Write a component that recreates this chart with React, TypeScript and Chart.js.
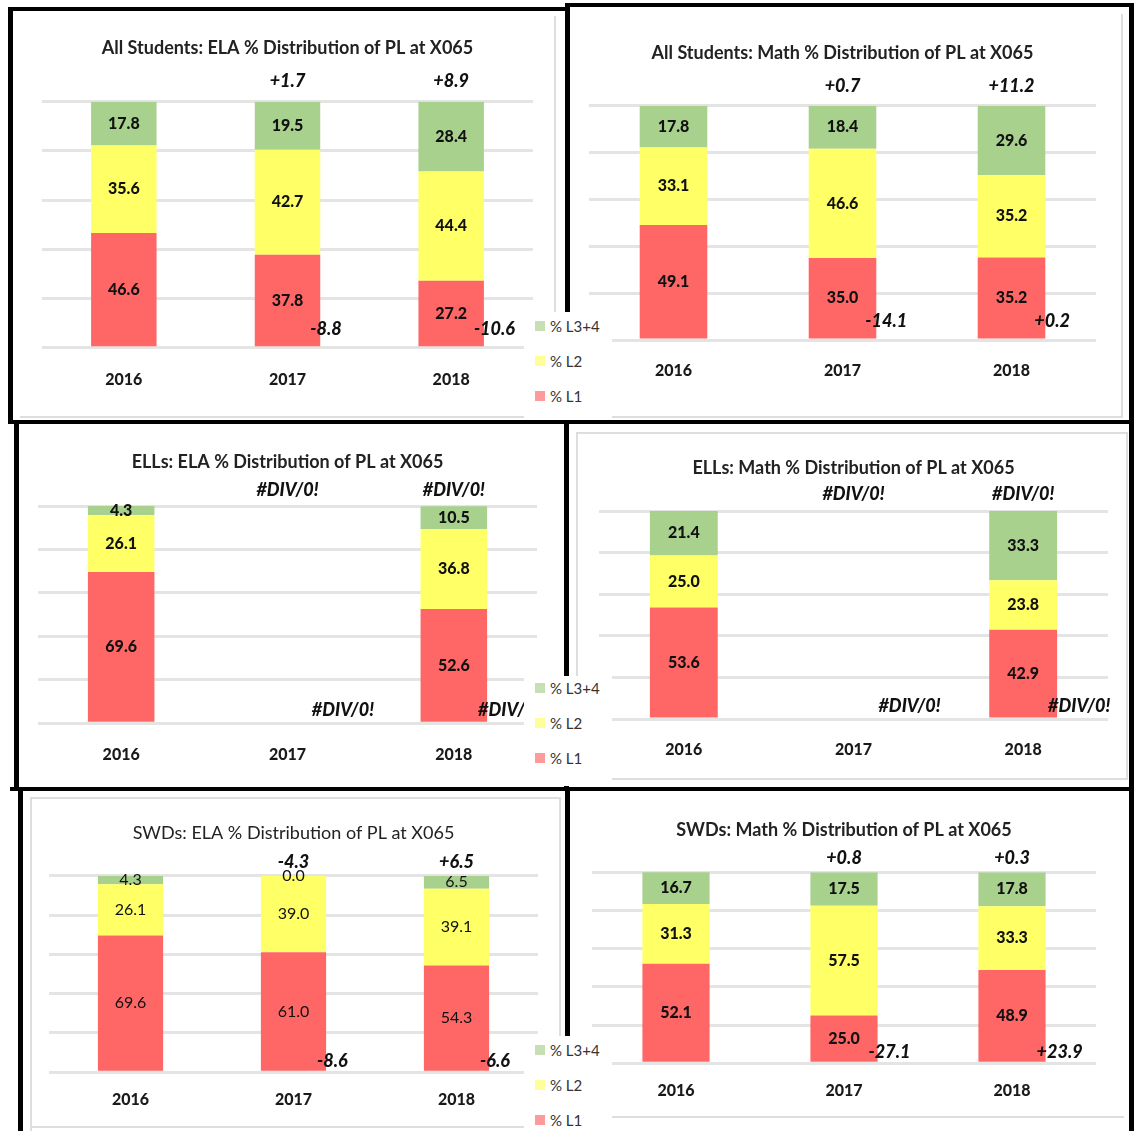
import React, { useEffect, useRef } from 'react';
import { Chart, registerables } from 'chart.js';

Chart.register(...registerables);

const FONT = 'Lato, "Open Sans", "DejaVu Sans", sans-serif';
const TEXT_DARK = '#111111';

const YEARS = ['2016', '2017', '2018'];
const SERIES = ['% L1', '% L2', '% L3+4'];
const BAR_COLORS = ['#FF6666', '#FFFF66', '#A9D18E'];
const LEGEND_COLORS = ['#FF9A9A', '#FFFF99', '#C6E0B4'];

// All Students — ELA
const ALL_ELA_L1 = [46.6, 37.8, 27.2];
const ALL_ELA_L2 = [35.6, 42.7, 44.4];
const ALL_ELA_L34 = [17.8, 19.5, 28.4];
const ALL_ELA_CHG_L34 = [null, '+1.7', '+8.9'];
const ALL_ELA_CHG_L1 = [null, '-8.8', '-10.6'];

// All Students — Math
const ALL_MATH_L1 = [49.1, 35.0, 35.2];
const ALL_MATH_L2 = [33.1, 46.6, 35.2];
const ALL_MATH_L34 = [17.8, 18.4, 29.6];
const ALL_MATH_CHG_L34 = [null, '+0.7', '+11.2'];
const ALL_MATH_CHG_L1 = [null, '-14.1', '+0.2'];

// ELLs — ELA
const ELL_ELA_L1 = [69.6, null, 52.6];
const ELL_ELA_L2 = [26.1, null, 36.8];
const ELL_ELA_L34 = [4.3, null, 10.5];
const ELL_ELA_CHG_L34 = [null, '#DIV/0!', '#DIV/0!'];
const ELL_ELA_CHG_L1 = [null, '#DIV/0!', '#DIV/0!'];

// ELLs — Math
const ELL_MATH_L1 = [53.6, null, 42.9];
const ELL_MATH_L2 = [25.0, null, 23.8];
const ELL_MATH_L34 = [21.4, null, 33.3];
const ELL_MATH_CHG_L34 = [null, '#DIV/0!', '#DIV/0!'];
const ELL_MATH_CHG_L1 = [null, '#DIV/0!', '#DIV/0!'];

// SWDs — ELA
const SWD_ELA_L1 = [69.6, 61.0, 54.3];
const SWD_ELA_L2 = [26.1, 39.0, 39.1];
const SWD_ELA_L34 = [4.3, 0.0, 6.5];
const SWD_ELA_CHG_L34 = [null, '-4.3', '+6.5'];
const SWD_ELA_CHG_L1 = [null, '-8.6', '-6.6'];

// SWDs — Math
const SWD_MATH_L1 = [52.1, 25.0, 48.9];
const SWD_MATH_L2 = [31.3, 57.5, 33.3];
const SWD_MATH_L34 = [16.7, 17.5, 17.8];
const SWD_MATH_CHG_L34 = [null, '+0.8', '+0.3'];
const SWD_MATH_CHG_L1 = [null, '-27.1', '+23.9'];

const BAR_PCT = 0.4;

type Spec = {
  title: string;
  l1: (number | null)[];
  l2: (number | null)[];
  l34: (number | null)[];
  chgTop: (string | null)[];
  chgLow: (string | null)[];
  box: number[]; // canvas left, top, width, height
  plot: number[]; // plot left, right, top, bottom
  titleY: number;
  tickY: number;
  titleBold: boolean;
  valueBold: boolean;
  titleSize: number;
  valueSize: number;
  tickSize: number;
  changeSize: number;
  topOff: number;
  lowOff: number;
  inset: number;
};

const CHARTS: Spec[] = [
  {
    title: 'All Students: ELA % Distribution of PL at X065',
    l1: ALL_ELA_L1, l2: ALL_ELA_L2, l34: ALL_ELA_L34, chgTop: ALL_ELA_CHG_L34, chgLow: ALL_ELA_CHG_L1,
    box: [14, 12, 546, 404], plot: [42, 533, 101.7, 347.7], titleY: 48, tickY: 380,
    titleBold: true, valueBold: true, titleSize: 18, valueSize: 16, tickSize: 16, changeSize: 18,
    topOff: 21, lowOff: 19, inset: 10,
  },
  {
    title: 'All Students: Math % Distribution of PL at X065',
    l1: ALL_MATH_L1, l2: ALL_MATH_L2, l34: ALL_MATH_L34, chgTop: ALL_MATH_CHG_L34, chgLow: ALL_MATH_CHG_L1,
    box: [571, 8, 556, 408], plot: [589, 1096, 105.7, 340], titleY: 53, tickY: 371,
    titleBold: true, valueBold: true, titleSize: 18, valueSize: 16, tickSize: 16, changeSize: 18,
    topOff: 20, lowOff: 19, inset: 11,
  },
  {
    title: 'ELLs: ELA % Distribution of PL at X065',
    l1: ELL_ELA_L1, l2: ELL_ELA_L2, l34: ELL_ELA_L34, chgTop: ELL_ELA_CHG_L34, chgLow: ELL_ELA_CHG_L1,
    box: [20, 425, 544, 366], plot: [38, 537, 506, 723.3], titleY: 462, tickY: 755,
    titleBold: true, valueBold: true, titleSize: 18, valueSize: 16, tickSize: 16, changeSize: 18,
    topOff: 16, lowOff: 13, inset: 9,
  },
  {
    title: 'ELLs: Math % Distribution of PL at X065',
    l1: ELL_MATH_L1, l2: ELL_MATH_L2, l34: ELL_MATH_L34, chgTop: ELL_MATH_CHG_L34, chgLow: ELL_MATH_CHG_L1,
    box: [580, 436, 544, 352], plot: [599, 1108, 511, 719], titleY: 468, tickY: 750,
    titleBold: true, valueBold: true, titleSize: 18, valueSize: 16, tickSize: 16, changeSize: 18,
    topOff: 17, lowOff: 13, inset: 9,
  },
  {
    title: 'SWDs: ELA % Distribution of PL at X065',
    l1: SWD_ELA_L1, l2: SWD_ELA_L2, l34: SWD_ELA_L34, chgTop: SWD_ELA_CHG_L34, chgLow: SWD_ELA_CHG_L1,
    box: [34, 800, 524, 331], plot: [49, 538, 875.7, 1072.3], titleY: 833, tickY: 1100,
    titleBold: false, valueBold: false, titleSize: 18, valueSize: 16, tickSize: 16, changeSize: 18,
    topOff: 14, lowOff: 11, inset: 9,
  },
  {
    title: 'SWDs: Math % Distribution of PL at X065',
    l1: SWD_MATH_L1, l2: SWD_MATH_L2, l34: SWD_MATH_L34, chgTop: SWD_MATH_CHG_L34, chgLow: SWD_MATH_CHG_L1,
    box: [571, 792, 556, 331], plot: [592, 1096, 872.3, 1063.3], titleY: 830, tickY: 1091,
    titleBold: true, valueBold: true, titleSize: 18, valueSize: 16, tickSize: 16, changeSize: 18,
    topOff: 14, lowOff: 11, inset: 9,
  },
];

// black collage lines: left, top, width, height
const BLACK_LINES = [
  [8, 7, 561, 4],
  [565, 3, 569, 4],
  [8, 7, 5, 416],
  [14, 420, 5, 370],
  [18, 787, 5, 344],
  [565, 3, 5, 420],
  [564, 420, 5, 370],
  [565, 787, 5, 344],
  [1129, 3, 5, 1128],
  [8, 420, 1126, 4],
  [10, 787, 1124, 4],
];

// light grey chart-area frames
const GREY_LINES = [
  [554, 16, 2, 402],
  [20, 416, 536, 2],
  [1121, 14, 2, 404],
  [577, 416, 546, 2],
  [577, 432, 551, 2],
  [576, 432, 2, 347],
  [1126, 432, 2, 347],
  [576, 778, 552, 2],
  [30, 797, 531, 2],
  [30, 797, 2, 334],
  [559, 797, 2, 240],
  [30, 1126, 494, 2],
  [577, 1116, 547, 2],
];

// legend boxes: left, top, width, height, first item centre offset
const LEGENDS = [
  [524, 312, 88, 108, 14],
  [524, 676, 88, 110, 12],
  [524, 1036, 88, 95, 14],
];

function makeLabelPlugin(s: Spec) {
  return {
    id: 'segLabels',
    afterDatasetsDraw(chart: any) {
      const ctx = chart.ctx as CanvasRenderingContext2D;
      const xs = chart.scales.x;
      const ys = chart.scales.y;
      ctx.save();
      ctx.fillStyle = TEXT_DARK;
      ctx.textBaseline = 'middle';
      ctx.textAlign = 'center';
      ctx.font = `${s.valueBold ? '900' : 'normal'} ${s.valueSize}px ${FONT}`;
      chart.data.datasets.forEach((ds: any, di: number) => {
        const meta = chart.getDatasetMeta(di);
        meta.data.forEach((el: any, i: number) => {
          const v = ds.data[i];
          if (v === null || v === undefined) return;
          ctx.fillText(Number(v).toFixed(1), el.x, (el.y + el.base) / 2);
        });
      });
      const n = chart.data.labels.length;
      const half = ((xs.right - xs.left) / n) * BAR_PCT / 2;
      ctx.font = `italic 900 ${s.changeSize}px ${FONT}`;
      s.chgTop.forEach((t, i) => {
        if (!t) return;
        ctx.textAlign = 'center';
        ctx.fillText(t, xs.getPixelForValue(i), ys.getPixelForValue(ys.max) - s.topOff);
      });
      s.chgLow.forEach((t, i) => {
        if (!t) return;
        ctx.textAlign = 'left';
        ctx.fillText(t, xs.getPixelForValue(i) + half - s.inset, ys.getPixelForValue(0) - s.lowOff);
      });
      ctx.restore();
    },
  };
}

function ChartPanel({ spec }: { spec: Spec }) {
  const ref = useRef<HTMLCanvasElement>(null);
  useEffect(() => {
    const s = spec;
    const [cl, ct, cw, ch] = s.box;
    const [pl, pr, pt, pb] = s.plot;
    const tLh = s.titleSize * 1.2;
    const xLh = s.tickSize * 1.2;
    const titlePadTop = s.titleY - ct - tLh / 2;
    const titlePadBottom = pt - s.titleY - tLh / 2;
    const tickPad = s.tickY - pb - xLh / 2;
    // the x axis box reserves the tick padding twice
    const padBottom = Math.max(0, ct + ch - (pb + 2 * tickPad + xLh));
    const series = [s.l1, s.l2, s.l34];
    const chart = new Chart(ref.current as HTMLCanvasElement, {
      type: 'bar',
      data: {
        labels: YEARS,
        datasets: series.map((d, i) => ({
          label: SERIES[i],
          data: d as any,
          backgroundColor: BAR_COLORS[i],
          borderWidth: 0,
          barPercentage: BAR_PCT,
          categoryPercentage: 1,
        })),
      },
      options: {
        responsive: false,
        animation: false,
        devicePixelRatio: 1,
        layout: {
          padding: { left: pl - cl, right: cl + cw - pr, top: 0, bottom: padBottom },
        },
        plugins: {
          legend: { display: false },
          tooltip: { enabled: false },
          title: {
            display: true,
            text: s.title,
            color: '#222222',
            font: { family: FONT, size: s.titleSize, weight: s.titleBold ? 'bold' : 'normal' },
            padding: { top: titlePadTop, bottom: titlePadBottom },
          },
        },
        scales: {
          x: {
            stacked: true,
            grid: { display: false, drawTicks: false },
            border: { display: false },
            ticks: {
              color: '#1a1a1a',
              padding: tickPad,
              font: { family: FONT, size: s.tickSize, weight: '900' },
            },
          },
          y: {
            stacked: true,
            min: 0,
            max: 100,
            ticks: { display: false, stepSize: 20 },
            grid: { color: '#e4e4e4', lineWidth: 3, drawTicks: false },
            border: { display: false },
          },
        },
      },
      plugins: [makeLabelPlugin(s)],
    });
    return () => chart.destroy();
  }, [spec]);
  const [cl, ct, cw, ch] = spec.box;
  return (
    <canvas
      ref={ref}
      width={cw}
      height={ch}
      style={{ position: 'absolute', left: cl, top: ct, width: cw, height: ch, zIndex: 2 }}
    />
  );
}

function Legend({ box }: { box: number[] }) {
  const [l, t, w, h, first] = box;
  const order = [2, 1, 0];
  return (
    <div style={{ position: 'absolute', left: l, top: t, width: w, height: h, background: '#fff', zIndex: 5 }}>
      {order.map((si, k) => (
        <div
          key={si}
          style={{
            position: 'absolute',
            left: 11,
            top: first + k * 35 - 10,
            height: 20,
            display: 'flex',
            alignItems: 'center',
            fontFamily: FONT,
            fontSize: 15,
            color: '#333333',
            whiteSpace: 'nowrap',
          }}
        >
          <span style={{ display: 'inline-block', width: 10, height: 10, background: LEGEND_COLORS[si], marginRight: 5 }} />
          {SERIES[si]}
        </div>
      ))}
    </div>
  );
}

export default function App() {
  return (
    <div
      style={{
        position: 'absolute',
        left: 0,
        top: 0,
        width: 1137,
        height: 1131,
        background: '#fff',
        overflow: 'hidden',
      }}
    >
      {GREY_LINES.map((r, i) => (
        <div key={'g' + i} style={{ position: 'absolute', left: r[0], top: r[1], width: r[2], height: r[3], background: '#dedede', zIndex: 1 }} />
      ))}
      {CHARTS.map((s, i) => (
        <ChartPanel key={i} spec={s} />
      ))}
      {BLACK_LINES.map((r, i) => (
        <div key={'b' + i} style={{ position: 'absolute', left: r[0], top: r[1], width: r[2], height: r[3], background: '#000', zIndex: 3 }} />
      ))}
      {LEGENDS.map((b, i) => (
        <Legend key={'l' + i} box={b} />
      ))}
    </div>
  );
}
